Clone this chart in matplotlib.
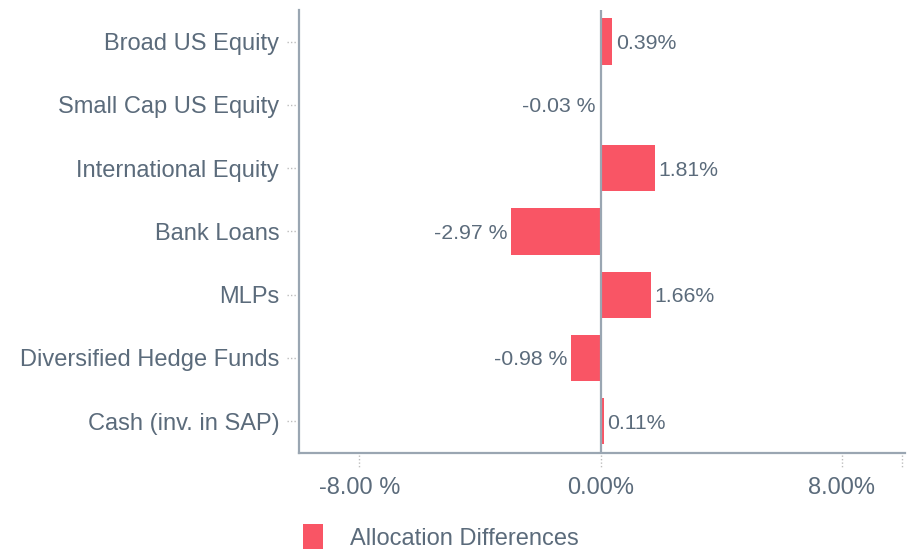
import matplotlib.pyplot as plt
import matplotlib.transforms as mtransforms
from matplotlib.patches import Patch

categories = ['Broad US Equity', 'Small Cap US Equity', 'International Equity',
              'Bank Loans', 'MLPs', 'Diversified Hedge Funds', 'Cash (inv. in SAP)']
diffs = [0.39, -0.03, 1.81, -2.97, 1.66, -0.98, 0.11]
xticks = [-8, 0, 8]
xtick_labels = ['-8.00 %', '0.00%', '8.00%']

BAR = '#f95565'
TXT = '#5b6b7b'
AXC = '#9aa6b2'
TICKC = '#bdbdbd'

def fmt(v):
    return f'{v:.2f} %' if v < 0 else f'{v:.2f}%'

def main():
    plt.rcParams['font.family'] = ['Liberation Sans', 'DejaVu Sans']
    fig = plt.figure(figsize=(9.17, 5.49), dpi=100)
    ax = fig.add_axes([0.326, 0.175, 0.661, 0.807])

    y = list(range(len(categories)))
    ax.barh(y, diffs, height=0.73, color=BAR, zorder=2)
    ax.axvline(0, color=AXC, lw=1.6, zorder=3)

    for yi, v in zip(y, diffs):
        if v >= 0:
            ax.text(v + 0.12, yi, fmt(v), va='center_baseline', ha='left', fontsize=15.3, color=TXT)
        else:
            ax.text(v - 0.12, yi, fmt(v), va='center_baseline', ha='right', fontsize=15.3, color=TXT)

    ax.set_xlim(-10, 10.1)
    ax.set_ylim(len(categories) - 0.5, -0.5)
    ax.set_yticks(y)
    ax.set_yticklabels(categories, fontsize=17, color=TXT)
    ax.set_xticks(xticks)
    ax.set_xticklabels(xtick_labels, fontsize=17, color=TXT)

    for s in ['top', 'right']:
        ax.spines[s].set_visible(False)
    for s in ['left', 'bottom']:
        ax.spines[s].set_color(AXC)
        ax.spines[s].set_linewidth(1.6)

    ax.tick_params(axis='y', length=0, pad=14.2)
    ax.tick_params(axis='x', length=0, pad=17)

    # dotted tick marks
    ytr = mtransforms.blended_transform_factory(ax.transAxes, ax.transData)
    for yi in y:
        ax.plot([-0.019, -0.003], [yi, yi], transform=ytr, color=TICKC,
                lw=1, ls=(0, (1, 1.5)), clip_on=False)
    xtr = mtransforms.blended_transform_factory(ax.transData, ax.transAxes)
    for xv in xticks + [10]:
        ax.plot([xv, xv], [-0.005, -0.035], transform=xtr, color=TICKC,
                lw=1, ls=(0, (1, 1.5)), clip_on=False)

    handle = Patch(facecolor=BAR, edgecolor='none')
    fig.legend([handle], ['Allocation Differences'], loc='lower left',
               bbox_to_anchor=(0.307, -0.042), frameon=False, fontsize=17,
               labelcolor=TXT, handlelength=0.84, handleheight=1.39, handletextpad=1.15)

    fig.savefig('out.png', dpi=100)

if __name__ == '__main__':
    main()
